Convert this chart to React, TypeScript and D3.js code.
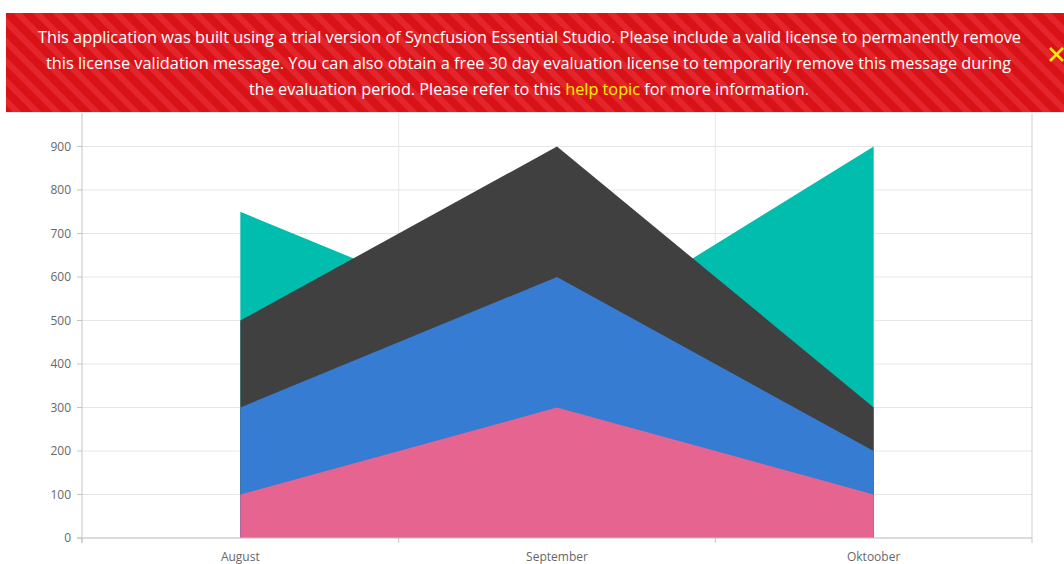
import React from "react";
import * as d3 from "d3";

// Monthly values per series (drawn as overlapping areas, back to front)
const months = ["August", "September", "Oktoober"];
const seriesA = [750, 450, 900];
const seriesB = [500, 900, 300];
const seriesC = [300, 600, 200];
const seriesD = [100, 300, 100];
const seriesColors = ["#00bdae", "#404041", "#357cd2", "#e56590"];
const yTicks = [0, 100, 200, 300, 400, 500, 600, 700, 800, 900, 1000];

const W = 1064;
const H = 564;

export default function App() {
  const x = d3.scaleBand<string>().domain(months).range([82, 1032]).paddingInner(0).paddingOuter(0);
  const y = d3.scaleLinear().domain([0, 1000]).range([538, 103]);
  const cx = (m: string) => (x(m) as number) + x.bandwidth() / 2;

  const area = d3
    .area<number>()
    .x((_, i) => cx(months[i]))
    .y0(y(0))
    .y1((d) => y(d));

  const allSeries = [seriesA, seriesB, seriesC, seriesD];
  const boundaries = months.map((m) => (x(m) as number) + x.bandwidth());
  const font = "'Segoe UI', 'Open Sans', 'Noto Sans', sans-serif";

  return (
    <div style={{ position: "fixed", left: 0, top: 0, width: W, height: H, background: "#fff" }}>
      <svg width={W} height={H} style={{ display: "block" }}>
        <defs>
          <pattern id="stripes" width="14" height="14" patternUnits="userSpaceOnUse" patternTransform="rotate(-45)">
            <rect width="14" height="14" fill="#d91218" />
            <rect width="6" height="14" fill="#e4262c" />
          </pattern>
        </defs>

        {/* horizontal gridlines */}
        {yTicks.map((t) => (
          <line key={"g" + t} x1={82} x2={1032} y1={y(t)} y2={y(t)} stroke="#e6e6e6" strokeWidth={1} />
        ))}
        {/* vertical gridlines at category boundaries */}
        {boundaries.map((b, i) => (
          <line key={"v" + i} x1={b} x2={b} y1={y(1000)} y2={y(0)} stroke={i === boundaries.length - 1 ? "#cfcfcf" : "#e6e6e6"} strokeWidth={1} />
        ))}

        {/* areas */}
        {allSeries.map((s, i) => (
          <path key={"a" + i} d={area(s) as string} fill={seriesColors[i]} />
        ))}

        {/* y axis */}
        <line x1={82} x2={82} y1={y(1000)} y2={543} stroke="#c4c4c4" strokeWidth={1} />
        {yTicks.map((t) => (
          <g key={"t" + t}>
            <line x1={77} x2={82} y1={y(t)} y2={y(t)} stroke="#c4c4c4" />
            <text x={71} y={y(t)} dy="0.35em" textAnchor="end" fontSize={12} fill="#686868" fontFamily={font}>
              {t}
            </text>
          </g>
        ))}

        {/* x axis */}
        <line x1={77} x2={1032} y1={y(0)} y2={y(0)} stroke="#c4c4c4" strokeWidth={1} />
        {[82, ...boundaries].map((b, i) => (
          <line key={"xt" + i} x1={b} x2={b} y1={538} y2={543} stroke="#c4c4c4" />
        ))}
        {months.map((m) => (
          <text key={m} x={cx(m)} y={561} textAnchor="middle" fontSize={12} fill="#686868" fontFamily={font}>
            {m}
          </text>
        ))}

        {/* license banner */}
        <line x1={6} x2={W} y1={112.5} y2={112.5} stroke="#e8e8e8" />
        <rect x={6} y={13} width={W - 6} height={99} fill="url(#stripes)" />
        <g fontFamily={font} fontSize={16} fill="#ffffff" textAnchor="middle">
          <text x={529.5} y={43} textLength={983} lengthAdjust="spacingAndGlyphs">
            This application was built using a trial version of Syncfusion Essential Studio. Please include a valid license to permanently remove
          </text>
          <text x={528.5} y={69} textLength={965} lengthAdjust="spacingAndGlyphs">
            this license validation message. You can also obtain a free 30 day evaluation license to temporarily remove this message during
          </text>
          <text x={529} y={95} textLength={560} lengthAdjust="spacingAndGlyphs">
            the evaluation period. Please refer to this <tspan fill="#ffee00">help topic</tspan> for more information.
          </text>
        </g>
        {/* close mark */}
        <g stroke="#ffee00" strokeWidth={2.6} strokeLinecap="butt">
          <line x1={1050} y1={48} x2={1063} y2={61} />
          <line x1={1063} y1={48} x2={1050} y2={61} />
        </g>
      </svg>
    </div>
  );
}
